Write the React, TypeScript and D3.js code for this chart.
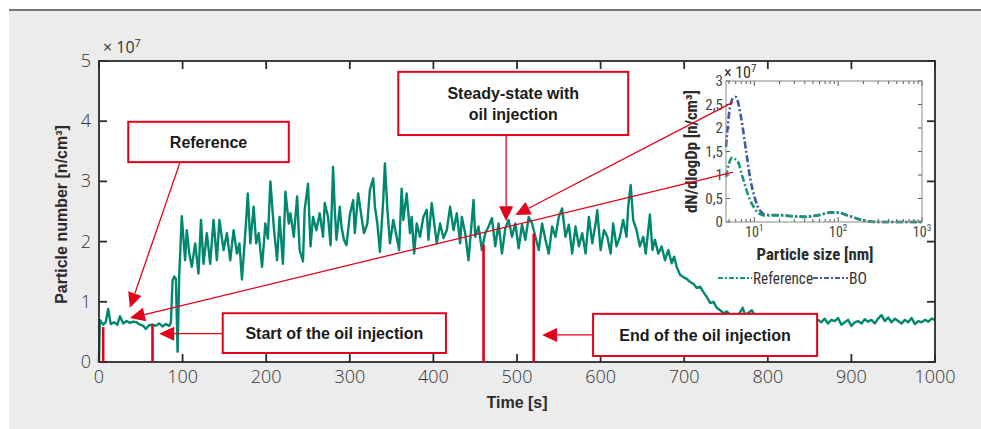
import React, { useEffect, useRef } from "react";
import * as d3 from "d3";

// main time series: particle number (x 10^7 n/cm3) over time (s)
const timeS = [
  0, 1, 5, 8, 11, 14, 18, 22, 25, 29, 33, 37, 41, 45, 49, 53, 56, 60, 64, 68,
  72, 76, 80, 84, 86, 88, 90, 92, 94, 96, 99, 103, 105, 108, 111, 115, 119, 122, 125, 129,
  133, 137, 141, 144, 149, 153, 157, 161, 165, 168, 171, 175, 178, 181, 185, 188, 191, 195, 199, 202,
  205, 209, 213, 216, 220, 223, 227, 229, 233, 237, 240, 244, 246, 250, 253, 256, 260, 264, 268, 270,
  274, 277, 280, 282, 284, 288, 290, 293, 296, 300, 304, 306, 310, 314, 317, 321, 324, 328, 330, 333,
  336, 340, 342, 345, 348, 352, 356, 359, 362, 364, 368, 372, 374, 377, 380, 384, 388, 392, 394, 398,
  402, 404, 408, 412, 416, 420, 424, 428, 432, 434, 438, 442, 448, 450, 454, 458, 462, 466, 470, 474,
  478, 482, 486, 490, 494, 498, 502, 506, 510, 514, 518, 522, 526, 530, 534, 538, 542, 546, 550, 554,
  558, 562, 566, 570, 574, 578, 582, 586, 590, 594, 596, 600, 604, 608, 612, 615, 619, 623, 627, 631,
  633, 636, 639, 643, 647, 651, 654, 657, 659, 662, 665, 669, 673, 677, 681, 685, 688, 691, 695, 699,
  703, 707, 711, 715, 719, 723, 727, 731, 735, 739, 743, 747, 751, 755, 759, 763, 767, 770, 773, 777,
  781, 785, 790, 795, 800, 805, 810, 815, 820, 825, 830, 835, 840, 845, 850, 855, 860, 864, 868, 872,
  876, 880, 884, 888, 892, 896, 900, 904, 908, 912, 916, 920, 924, 928, 932, 936, 940, 944, 948, 952,
  956, 960, 964, 968, 972, 976, 980, 984, 988, 992, 996, 1000,
];
const particleE7 = [
  0.0, 0.7, 0.62, 0.66, 0.88, 0.63, 0.66, 0.62, 0.76, 0.64, 0.68, 0.65, 0.67, 0.66, 0.62, 0.6, 0.55, 0.61, 0.62, 0.6,
  0.64, 0.59, 0.63, 0.6, 0.66, 1.35, 1.42, 1.38, 0.17, 1.45, 2.42, 1.69, 2.19, 1.8, 1.58, 1.97, 1.47, 2.36, 1.63, 2.14,
  1.63, 2.36, 1.69, 2.36, 1.86, 2.14, 1.69, 2.19, 1.8, 1.97, 1.37, 2.14, 2.8, 1.97, 2.58, 1.97, 2.14, 1.58, 2.3, 2.05,
  3.0, 2.25, 1.69, 2.41, 1.63, 2.83, 2.3, 2.47, 2.08, 2.75, 1.86, 1.67, 2.53, 2.96, 1.92, 2.41, 2.19, 2.47, 2.08, 2.64,
  2.41, 1.94, 3.24, 2.53, 2.03, 2.58, 2.25, 2.03, 1.94, 2.44, 2.69, 2.14, 2.8, 2.41, 2.14, 2.3, 2.86, 3.05, 2.58, 2.3,
  1.83, 2.69, 3.3, 2.53, 1.97, 2.36, 2.08, 1.86, 2.88, 2.36, 2.8, 2.14, 2.41, 1.8, 2.3, 2.08, 2.41, 2.53, 2.03, 2.64,
  2.19, 1.97, 2.3, 2.06, 2.19, 2.58, 2.19, 2.47, 1.97, 2.41, 2.14, 1.69, 2.69, 2.08, 2.25, 1.86, 2.14, 2.25, 2.39, 1.92,
  2.3, 1.8, 2.22, 2.36, 2.08, 2.3, 1.89, 2.28, 2.03, 2.41, 2.3, 2.08, 1.86, 2.3, 2.03, 1.8, 2.25, 2.08, 2.41, 2.55,
  2.08, 2.28, 1.8, 2.25, 1.92, 2.14, 1.8, 2.41, 1.97, 2.3, 2.52, 1.86, 2.19, 2.08, 1.8, 2.3, 1.92, 2.08, 2.36, 2.08,
  2.58, 2.94, 2.36, 2.19, 1.92, 2.08, 1.8, 2.19, 2.45, 1.86, 2.03, 1.8, 1.92, 1.69, 1.86, 1.64, 1.75, 1.58, 1.45, 1.41,
  1.38, 1.33, 1.3, 1.23, 1.25, 1.16, 1.08, 0.98, 1.0, 0.9, 0.86, 0.81, 0.84, 0.78, 0.8, 0.76, 0.83, 0.9, 0.78, 0.82,
  0.86, 0.75, 0.72, 0.7, 0.73, 0.68, 0.71, 0.66, 0.7, 0.67, 0.72, 0.65, 0.69, 0.7, 0.66, 0.71, 0.7, 0.66, 0.72, 0.64,
  0.7, 0.68, 0.73, 0.62, 0.66, 0.7, 0.6, 0.66, 0.68, 0.64, 0.71, 0.67, 0.7, 0.64, 0.72, 0.78, 0.68, 0.74, 0.66, 0.72,
  0.68, 0.64, 0.7, 0.66, 0.73, 0.63, 0.68, 0.66, 0.7, 0.67, 0.72, 0.7,
];

// inset: size distribution (x 10^7)
const sizeNm = [4.6, 5, 5.5, 6, 6.5, 7, 8, 9, 10, 11, 12, 13, 15, 20, 30, 40, 60, 80, 100, 130, 170, 220, 300, 500, 1000];
const referenceE7 = [0.95, 1.25, 1.37, 1.33, 1.25, 1.05, 0.7, 0.45, 0.3, 0.2, 0.16, 0.14, 0.14, 0.14, 0.12, 0.11, 0.15, 0.2, 0.2, 0.14, 0.07, 0.02, 0, 0, 0];
const boE7 = [1.6, 2.3, 2.62, 2.66, 2.5, 2.2, 1.5, 0.9, 0.55, 0.33, 0.22, 0.17, 0.15, 0.15, 0.12, 0.11, 0.15, 0.2, 0.2, 0.14, 0.07, 0.02, 0, 0, 0];

const timeTicks = [0, 100, 200, 300, 400, 500, 600, 700, 800, 900, 1000];
const countTicks = [0, 1, 2, 3, 4, 5];
const insetYTicks = [0, 0.5, 1, 1.5, 2, 2.5, 3];
const insetXMajor = [10, 100, 1000];

// red injection markers
const markerTimes = [5, 64, 460, 520];
const markerTops = [0.58, 0.63, 1.95, 2.13];

const RED = "#e2001a";
const TEAL = "#00876f";
const BLUE = "#3b5ba8";
const INK = "#2b2b2b";

export default function App() {
  const svgRef = useRef(null);

  useEffect(() => {
    const svg = d3.select(svgRef.current);
    svg.selectAll("*").remove();

    const x = d3.scaleLinear().domain([0, 1000]).range([99, 935]);
    const y = d3.scaleLinear().domain([0, 5]).range([362, 61]);
    const ix = d3.scaleLog().domain([4.6, 1000]).range([726, 922]);
    const iy = d3.scaleLinear().domain([0, 3]).range([222, 81]);

    // page background
    svg.append("rect").attr("x", 9).attr("y", 10).attr("width", 972).attr("height", 419).attr("fill", "#ececec");
    svg.append("line").attr("x1", 9).attr("x2", 981).attr("y1", 10).attr("y2", 10).attr("stroke", "#777").attr("stroke-width", 2);

    // plot area
    svg.append("rect")
      .attr("x", x(0)).attr("y", y(5))
      .attr("width", x(1000) - x(0)).attr("height", y(0) - y(5))
      .attr("fill", "#fff");

    // series
    const line = d3.line()
      .x((d) => x(d[0]))
      .y((d) => y(d[1]));
    svg.append("path")
      .datum(timeS.map((t, i) => [t, particleE7[i]]))
      .attr("d", line)
      .attr("fill", "none")
      .attr("stroke", TEAL)
      .attr("stroke-width", 2.4)
      .attr("stroke-linejoin", "round");

    // ticks (inward, all four sides)
    const g = svg.append("g").attr("stroke", INK).attr("stroke-width", 1.8);
    timeTicks.forEach((t) => {
      g.append("line").attr("x1", x(t)).attr("x2", x(t)).attr("y1", y(0)).attr("y2", y(0) - 8);
      g.append("line").attr("x1", x(t)).attr("x2", x(t)).attr("y1", y(5)).attr("y2", y(5) + 8);
    });
    countTicks.forEach((v) => {
      g.append("line").attr("x1", x(0)).attr("x2", x(0) + 8).attr("y1", y(v)).attr("y2", y(v));
      g.append("line").attr("x1", x(1000)).attr("x2", x(1000) - 8).attr("y1", y(v)).attr("y2", y(v));
    });
    g.append("rect")
      .attr("x", x(0)).attr("y", y(5))
      .attr("width", x(1000) - x(0)).attr("height", y(0) - y(5))
      .attr("fill", "none");

    const tickFont = "'Open Sans', 'DejaVu Sans', sans-serif";
    svg.append("g").selectAll("text").data(timeTicks).join("text")
      .attr("x", (d) => x(d)).attr("y", y(0) + 21)
      .attr("text-anchor", "middle")
      .attr("font-family", tickFont).attr("font-weight", 300).attr("font-size", 18).attr("fill", "#333")
      .text((d) => d);
    svg.append("g").selectAll("text").data(countTicks).join("text")
      .attr("x", x(0) - 8).attr("y", (d) => y(d) + 6)
      .attr("text-anchor", "end")
      .attr("font-family", tickFont).attr("font-weight", 300).attr("font-size", 18).attr("fill", "#333")
      .text((d) => d);

    const mult = svg.append("text").attr("x", 103).attr("y", 53)
      .attr("font-family", tickFont).attr("font-size", 16).attr("fill", "#333");
    mult.append("tspan").text("× 10");
    mult.append("tspan").attr("dy", -6).attr("font-size", 11).text("7");

    const labelFont = "'Liberation Sans', Arial, sans-serif";
    svg.append("text")
      .attr("transform", `translate(67,${(y(0) + y(5)) / 2 + 3}) rotate(-90)`)
      .attr("text-anchor", "middle")
      .attr("font-family", labelFont).attr("font-weight", 700).attr("font-size", 16).attr("fill", INK)
      .text("Particle number [n/cm³]");
    svg.append("text")
      .attr("x", 517).attr("y", 408)
      .attr("text-anchor", "middle")
      .attr("font-family", labelFont).attr("font-weight", 700).attr("font-size", 16).attr("fill", INK)
      .text("Time [s]");

    // red injection markers
    svg.append("g").selectAll("line").data(markerTimes).join("line")
      .attr("x1", (d) => x(d)).attr("x2", (d) => x(d))
      .attr("y1", y(0)).attr("y2", (d, i) => y(markerTops[i]))
      .attr("stroke", RED).attr("stroke-width", 2.6);

    // ---- inset ----
    const narrow = "'Liberation Sans Narrow', 'Roboto Condensed', 'DejaVu Sans Condensed', sans-serif";
    const ig = svg.append("g");
    const insetLine = d3.line()
      .x((d) => ix(d[0]))
      .y((d) => iy(d[1]))
      .curve(d3.curveMonotoneX);
    ig.append("path")
      .datum(sizeNm.map((s, i) => [s, boE7[i]]))
      .attr("d", insetLine).attr("fill", "none")
      .attr("stroke", BLUE).attr("stroke-width", 2.6).attr("stroke-dasharray", "7,2.5,2,2.5");
    ig.append("path")
      .datum(sizeNm.map((s, i) => [s, referenceE7[i]]))
      .attr("d", insetLine).attr("fill", "none")
      .attr("stroke", "#1a9577").attr("stroke-width", 2.6).attr("stroke-dasharray", "7,2.5,2,2.5");

    const ia = ig.append("g").attr("stroke", "#555").attr("stroke-width", 1);
    ix.ticks().forEach((s) => {
      const len = insetXMajor.includes(s) ? 5 : 3;
      ia.append("line").attr("x1", ix(s)).attr("x2", ix(s)).attr("y1", iy(0)).attr("y2", iy(0) - len);
      ia.append("line").attr("x1", ix(s)).attr("x2", ix(s)).attr("y1", iy(3)).attr("y2", iy(3) + len);
    });
    insetYTicks.forEach((v) => {
      ia.append("line").attr("x1", ix(4.6)).attr("x2", ix(4.6) + 4).attr("y1", iy(v)).attr("y2", iy(v));
      ia.append("line").attr("x1", ix(1000)).attr("x2", ix(1000) - 4).attr("y1", iy(v)).attr("y2", iy(v));
    });
    ia.append("rect")
      .attr("x", ix(4.6)).attr("y", iy(3))
      .attr("width", ix(1000) - ix(4.6)).attr("height", iy(0) - iy(3))
      .attr("fill", "none").attr("stroke", "#888");

    ig.append("g").selectAll("text").data(insetYTicks).join("text")
      .attr("x", ix(4.6) - 3).attr("y", (d) => iy(d) + 5)
      .attr("text-anchor", "end")
      .attr("font-family", narrow).attr("font-size", 15).attr("fill", "#444")
      .text((d) => String(d).replace(".", ","));
    insetXMajor.forEach((s) => {
      const t = ig.append("text").attr("x", ix(s)).attr("y", iy(0) + 15)
        .attr("text-anchor", "middle")
        .attr("font-family", narrow).attr("font-size", 14).attr("fill", "#444");
      t.append("tspan").text("10");
      t.append("tspan").attr("dy", -6).attr("font-size", 9).text(String(Math.log10(s)));
    });
    const imult = ig.append("text").attr("x", 724).attr("y", 78)
      .attr("font-family", narrow).attr("font-size", 16).attr("fill", INK);
    imult.append("tspan").text("× 10");
    imult.append("tspan").attr("dy", -6).attr("font-size", 11).text("7");

    ig.append("text")
      .attr("transform", `translate(697,${(iy(0) + iy(3)) / 2}) rotate(-90)`)
      .attr("text-anchor", "middle")
      .attr("font-family", narrow).attr("font-weight", 700).attr("font-size", 16).attr("fill", INK)
      .attr("textLength", 123).attr("lengthAdjust", "spacingAndGlyphs")
      .text("dN/dlogDp  [n/cm³]");
    ig.append("text")
      .attr("x", 815).attr("y", 260)
      .attr("text-anchor", "middle")
      .attr("font-family", narrow).attr("font-weight", 700).attr("font-size", 17).attr("fill", INK)
      .attr("textLength", 117).attr("lengthAdjust", "spacingAndGlyphs")
      .text("Particle size  [nm]");

    // legend
    const lg = ig.append("g").attr("font-family", narrow).attr("font-size", 16).attr("fill", "#333");
    lg.append("line").attr("x1", 718).attr("x2", 752).attr("y1", 278).attr("y2", 278)
      .attr("stroke", "#1a9577").attr("stroke-width", 2).attr("stroke-dasharray", "5,2,2,2");
    lg.append("text").attr("x", 753).attr("y", 284)
      .attr("textLength", 60).attr("lengthAdjust", "spacingAndGlyphs").text("Reference");
    lg.append("line").attr("x1", 813).attr("x2", 848).attr("y1", 278).attr("y2", 278)
      .attr("stroke", BLUE).attr("stroke-width", 2).attr("stroke-dasharray", "5,2,2,2");
    lg.append("text").attr("x", 849).attr("y", 284)
      .attr("textLength", 18).attr("lengthAdjust", "spacingAndGlyphs").text("BO");

    // ---- annotations ----
    const arrows = [
      { from: [x(97), y(3.32)], to: [x(37), y(0.9)] },
      { from: [ix(5.58), iy(1.06)], to: [x(37), y(0.73)] },
      { from: [x(487), y(3.77)], to: [x(487), y(2.34)] },
      { from: [ix(5.58), iy(2.55)], to: [x(498), y(2.44)] },
      { from: [x(148), y(0.47)], to: [x(72), y(0.47)] },
      { from: [x(591), y(0.45)], to: [x(530), y(0.45)] },
    ];
    const ag = svg.append("g");
    arrows.forEach(({ from, to }) => {
      const dx = to[0] - from[0];
      const dy = to[1] - from[1];
      const len = Math.hypot(dx, dy);
      const ux = dx / len;
      const uy = dy / len;
      const hl = 15;
      const hw = 7;
      const bx = to[0] - ux * hl;
      const by = to[1] - uy * hl;
      ag.append("line")
        .attr("x1", from[0]).attr("y1", from[1]).attr("x2", bx).attr("y2", by)
        .attr("stroke", RED).attr("stroke-width", 1.3);
      ag.append("polygon")
        .attr("points", [
          [to[0], to[1]],
          [bx - uy * hw, by + ux * hw],
          [bx + uy * hw, by - ux * hw],
        ].map((p) => p.join(",")).join(" "))
        .attr("fill", RED);
    });

    const boxes = [
      { lines: ["Reference"], t: [35, 227], v: [3.32, 3.99] },
      { lines: ["Steady-state with", "oil injection"], t: [358, 633], v: [3.77, 4.82] },
      { lines: ["Start of the oil injection"], t: [148, 415], v: [0.15, 0.81] },
      { lines: ["End of the oil injection"], t: [591, 859], v: [0.1, 0.8] },
    ];
    boxes.forEach((b) => {
      const bx0 = x(b.t[0]);
      const bx1 = x(b.t[1]);
      const by0 = y(b.v[1]);
      const by1 = y(b.v[0]);
      svg.append("rect")
        .attr("x", bx0).attr("y", by0).attr("width", bx1 - bx0).attr("height", by1 - by0)
        .attr("fill", "#fff").attr("stroke", RED).attr("stroke-width", 2);
      const cy = (by0 + by1) / 2;
      b.lines.forEach((txt, i) => {
        svg.append("text")
          .attr("x", (bx0 + bx1) / 2)
          .attr("y", cy + (i - (b.lines.length - 1) / 2) * 21 + 6)
          .attr("text-anchor", "middle")
          .attr("font-family", labelFont).attr("font-weight", 700).attr("font-size", 16).attr("fill", "#1a1a1a")
          .text(txt);
      });
    });
  }, []);

  return (
    <div style={{ position: "absolute", left: 0, top: 0 }}>
      <svg ref={svgRef} width={981} height={429} style={{ display: "block" }}></svg>
    </div>
  );
}
